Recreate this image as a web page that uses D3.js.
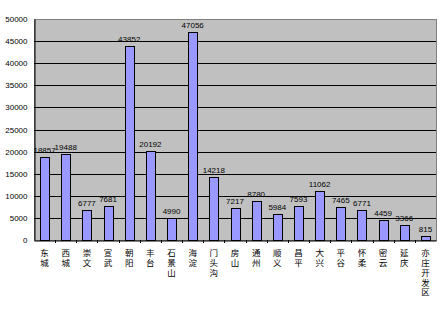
<!DOCTYPE html>
<html>
<head>
<meta charset="utf-8">
<script src="https://cdn.jsdelivr.net/npm/d3@7"></script>
<style>
  body { margin: 0; background: #fff; }
  svg { display: block; }
</style>
</head>
<body>
<svg id="chart" width="448" height="310"></svg>
<script>
const districts = ["东城", "西城", "崇文", "宣武", "朝阳", "丰台", "石景山", "海淀", "门头沟", "房山",
  "通州", "顺义", "昌平", "大兴", "平谷", "怀柔", "密云", "延庆", "亦庄开发区"];
const counts = [18857, 19488, 6777, 7681, 43852, 20192, 4990, 47056, 14218, 7217,
  8780, 5984, 7593, 11062, 7465, 6771, 4459, 3366, 815];
const yTicks = [0, 5000, 10000, 15000, 20000, 25000, 30000, 35000, 40000, 45000, 50000];

const svg = d3.select("#chart");
const plotL = 34, plotR = 436, plotT = 19, plotB = 240;

const x = d3.scaleBand().domain(d3.range(districts.length)).range([plotL, plotR]);
const y = d3.scaleLinear().domain([0, 50000]).range([plotB, plotT]);

// plot area
svg.append("rect")
  .attr("x", plotL + 0.5).attr("y", plotT + 0.5)
  .attr("width", plotR - plotL).attr("height", plotB - plotT)
  .attr("fill", "#c0c0c0")
  .attr("stroke", "#808080");

// gridlines
svg.append("g")
  .selectAll("line")
  .data(yTicks.filter(d => d > 0 && d < 50000))
  .join("line")
  .attr("x1", plotL).attr("x2", plotR)
  .attr("y1", d => Math.round(y(d)) + 0.5).attr("y2", d => Math.round(y(d)) + 0.5)
  .attr("stroke", "#000");

// y axis
const yAxis = svg.append("g")
  .attr("transform", `translate(${plotL + 0.5},0)`)
  .call(d3.axisLeft(y).tickValues(yTicks).tickSize(0).tickPadding(7).tickFormat(d3.format("d")));
yAxis.select(".domain").attr("stroke", "#000");
yAxis.selectAll("text")
  .attr("font-family", "Liberation Sans, Arial, sans-serif")
  .attr("font-size", 8)
  .attr("fill", "#000");

// bars
const barW = 9;
svg.append("g")
  .selectAll("rect")
  .data(counts)
  .join("rect")
  .attr("x", (d, i) => Math.round(x(i) + (x.bandwidth() - barW) / 2) + 0.5)
  .attr("y", d => Math.round(y(d)) + 0.5)
  .attr("width", barW)
  .attr("height", d => plotB - Math.round(y(d)))
  .attr("fill", "#9999ff")
  .attr("stroke", "#000")
  .attr("stroke-width", 1);

// value labels
svg.append("g")
  .selectAll("text")
  .data(counts)
  .join("text")
  .attr("x", (d, i) => x(i) + x.bandwidth() / 2)
  .attr("y", d => y(d) - 4)
  .attr("text-anchor", "middle")
  .attr("font-family", "Liberation Sans, Arial, sans-serif")
  .attr("font-size", 8)
  .text(d => d);

// x axis
const xAxis = svg.append("g")
  .attr("transform", `translate(0,${plotB + 0.5})`)
  .call(d3.axisBottom(x).tickSize(0).tickFormat(""));
xAxis.select(".domain").attr("stroke", "#000");

// category separators
svg.append("g")
  .selectAll("line")
  .data(d3.range(1, districts.length))
  .join("line")
  .attr("x1", i => Math.round(x(i)) + 0.5).attr("x2", i => Math.round(x(i)) + 0.5)
  .attr("y1", plotB).attr("y2", plotB + 3)
  .attr("stroke", "#000");

// vertical category labels (one text each, upright vertical writing)
svg.append("g")
  .selectAll("text")
  .data(districts)
  .join("text")
  .attr("x", (d, i) => x(i) + x.bandwidth() / 2)
  .attr("y", plotB + 9)
  .attr("font-family", "Noto Sans CJK SC, sans-serif")
  .attr("font-size", 8.5)
  .style("writing-mode", "vertical-rl")
  .style("text-orientation", "upright")
  .style("letter-spacing", "1.2px")
  .text(d => d);
</script>
</body>
</html>
